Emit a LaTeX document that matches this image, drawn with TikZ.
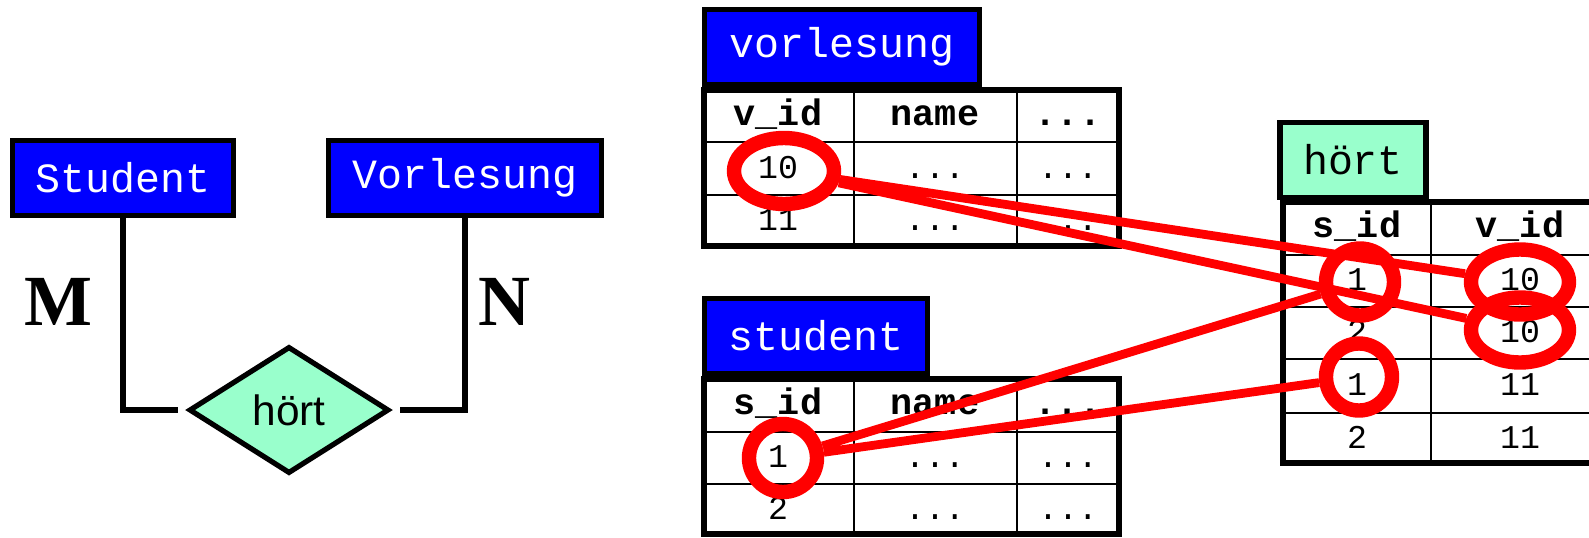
\documentclass[tikz,border=0pt]{standalone}
\usepackage{fontspec}
\setmainfont{Liberation Serif}
\setmonofont{Liberation Mono}
\newfontfamily\sansfnt{Liberation Sans}
\usepackage{tikz}
\usetikzlibrary{shapes.geometric}
\definecolor{erblue}{RGB}{0,0,255}
\definecolor{mint}{RGB}{153,255,204}

\begin{document}
\begin{tikzpicture}[x=0.25pt, y=-0.25pt, line width=1.3pt,
    entity/.style={draw, line width=1.3pt, fill=erblue, text=white, inner sep=0pt,
                   minimum height=18.75pt, font=\ttfamily\fontsize{10.4}{12}\selectfont},
    relation/.style={diamond, draw, line width=1.3pt, fill=mint, inner sep=0pt,
                     minimum width=50pt, minimum height=31.75pt,
                     font=\sansfnt\fontsize{10.6}{12}\selectfont},
    card/.style={font=\bfseries\fontsize{18}{20}\selectfont},
    head/.style={inner sep=0pt, text height=6pt, text depth=1.5pt,
                 font=\ttfamily\bfseries\fontsize{9.2}{11}\selectfont},
    cell/.style={inner sep=0pt, text height=6pt, text depth=1.5pt,
                 font=\ttfamily\fontsize{8.3}{10}\selectfont},
    tabframe/.style={line width=1.3pt},
    tabrule/.style={line width=0.5pt},
    ring/.style={ellipse, draw=red, line width=3.6pt, inner sep=0pt},
    hit/.style={draw=red, line width=2.2pt}]
    \useasboundingbox (0, 0) rectangle (1589, 537);

    % ER diagram
    \node[entity, minimum width=55.25pt](st) at (123, 178) {Student};
    \node[entity, minimum width=68.25pt](vl) at (465, 178) {Vorlesung};
    \node[relation](rel) at (289, 410) {hört};
    \node[card](m) at (58, 302) {M};
    \node[card](n) at (504, 302) {N};

    \draw (st.south) |- ([xshift=-2pt]rel.west);
    \draw (vl.south) |- ([xshift=2pt]rel.east);

    % table vorlesung
    \draw[tabrule] (704, 142) -- (1119, 142)
                   (704, 195) -- (1119, 195)
                   (854, 90) -- (854, 246)
                   (1017, 90) -- (1017, 246);
    \draw[tabframe] (704, 90) rectangle (1119, 246);
    \node[entity, minimum width=68.75pt](vt) at (842, 47) {vorlesung};
    \node[head](vh1) at (778, 116) {v\_id};
    \node[head](vh2) at (935, 116) {name};
    \node[head](vh3) at (1068, 116) {...};
    \node[cell](v11) at (778, 169) {10};
    \node[cell](v12) at (935, 169) {...};
    \node[cell](v13) at (1068, 169) {...};
    \node[cell](v21) at (778, 221) {11};
    \node[cell](v22) at (935, 221) {...};
    \node[cell](v23) at (1068, 221) {...};

    % table student
    \draw[tabrule] (704, 432) -- (1119, 432)
                   (704, 484) -- (1119, 484)
                   (854, 379) -- (854, 534)
                   (1017, 379) -- (1017, 534);
    \draw[tabframe] (704, 379) rectangle (1119, 534);
    \node[entity, minimum width=55.75pt](stt) at (816, 336) {student};
    \node[head](sh1) at (778, 405) {s\_id};
    \node[head](sh2) at (935, 405) {name};
    \node[head](sh3) at (1068, 405) {...};
    \node[cell](s11) at (778, 458) {1};
    \node[cell](s12) at (935, 458) {...};
    \node[cell](s13) at (1068, 458) {...};
    \node[cell](s21) at (778, 510) {2};
    \node[cell](s22) at (935, 510) {...};
    \node[cell](s23) at (1068, 510) {...};

    % table hoert
    \draw[tabrule] (1283, 255) -- (1640, 255)
                   (1283, 307) -- (1640, 307)
                   (1283, 359) -- (1640, 359)
                   (1283, 413) -- (1640, 413)
                   (1431, 202) -- (1431, 463);
    \draw[tabframe] (1283, 202) rectangle (1640, 463);
    \node[entity, fill=mint, text=black, minimum width=36.5pt](ht) at (1353, 160) {hört};
    \node[head](hh1) at (1357, 228) {s\_id};
    \node[head](hh2) at (1520, 228) {v\_id};
    \node[cell](h11) at (1357, 281) {1};
    \node[cell](h12) at (1520, 281) {10};
    \node[cell](h21) at (1357, 333) {2};
    \node[cell](h22) at (1520, 333) {10};
    \node[cell](h31) at (1357, 386) {1};
    \node[cell](h32) at (1520, 386) {11};
    \node[cell](h41) at (1357, 439) {2};
    \node[cell](h42) at (1520, 439) {11};

    % matches
    \node[ring, minimum width=25pt, minimum height=16.5pt](rv) at (784, 171) {};
    \node[ring, minimum width=17pt, minimum height=17pt](rs) at (783, 458) {};
    \node[ring, minimum width=17pt, minimum height=16.75pt](rh1) at (1360, 282) {};
    \node[ring, minimum width=16.5pt, minimum height=16.75pt](rh2) at (1359, 377) {};
    \node[ring, minimum width=24.5pt, minimum height=16.25pt](rh3) at (1520, 282) {};
    \node[ring, minimum width=24.5pt, minimum height=16.25pt](rh4) at (1520, 330) {};

    \draw[hit] (rv) -- (rh3)
               (rv) -- (rh4);
    \draw[hit] (rs) -- (rh1)
               (rs) -- (rh2);
\end{tikzpicture}
\end{document}
